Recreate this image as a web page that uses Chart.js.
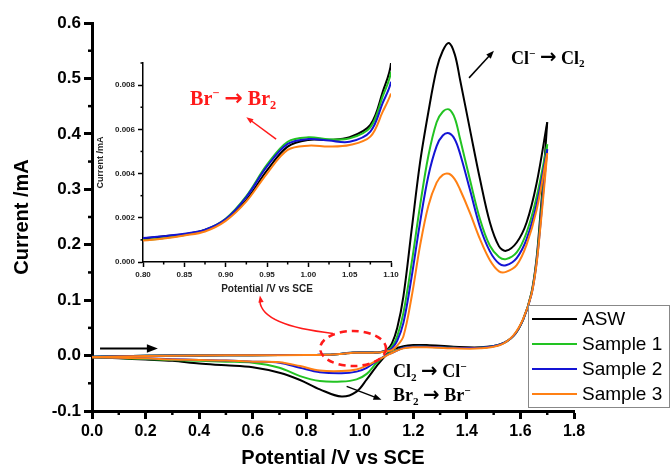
<!DOCTYPE html>
<html lang="en">
<head>
<meta charset="UTF-8">
<title>Cyclic voltammograms ASW and samples</title>
<script src="https://cdn.jsdelivr.net/npm/chart.js"></script>
<style>
  body { margin: 0; background: #fff; }
  #wrap { position: relative; width: 670px; height: 472px; }
  #mainChart { position: absolute; left: 0; top: 0; }
  #insetChart { position: absolute; left: 90px; top: 50px; }
</style>
</head>
<body>
<div id="wrap">
  <canvas id="mainChart" width="670" height="472"></canvas>
  <canvas id="insetChart" width="320" height="255"></canvas>
</div>
<script>
// series names and colours
const seriesLabels = ['ASW', 'Sample 1', 'Sample 2', 'Sample 3'];
const seriesColors = ['#000000', '#22c322', '#1414d4', '#ff8014'];

// forward scan (0 -> 1.7 V), potential in V, current in mA
const fwdPotential = [0, 0.2, 0.4, 0.6, 0.8, 0.825, 0.85, 0.875, 0.9, 0.925, 0.95, 0.975, 1.0, 1.025, 1.05, 1.075, 1.09, 1.1,
  1.12, 1.14, 1.163, 1.194, 1.225, 1.256, 1.287, 1.31, 1.333, 1.355, 1.374, 1.411, 1.449, 1.486, 1.52, 1.546, 1.586, 1.623, 1.66, 1.7];
const aswFwd = [-0.002, -0.0005, 0.0003, 0.0007, 0.00108, 0.00116, 0.00126, 0.00145, 0.0019, 0.0028, 0.00414, 0.00522, 0.00552, 0.00552, 0.00564, 0.0062, 0.0077, 0.009,
  0.022, 0.05, 0.107, 0.228, 0.348, 0.439, 0.517, 0.55, 0.564, 0.543, 0.499, 0.409, 0.318, 0.24, 0.197, 0.189, 0.204, 0.24, 0.31, 0.421];
const s1Fwd = [-0.002, -0.0005, 0.0003, 0.0007, 0.00099, 0.00108, 0.00122, 0.00145, 0.00196, 0.00298, 0.0044, 0.00544, 0.00564, 0.00555, 0.00559, 0.00609, 0.0075, 0.0086,
  0.016, 0.035, 0.077, 0.168, 0.27, 0.36, 0.421, 0.44, 0.444, 0.428, 0.392, 0.318, 0.246, 0.198, 0.178, 0.174, 0.186, 0.222, 0.285, 0.381];
const s2Fwd = [-0.002, -0.0005, 0.0003, 0.0007, 0.00109, 0.00117, 0.00128, 0.00146, 0.00194, 0.00294, 0.00432, 0.00534, 0.00556, 0.00549, 0.00544, 0.0059, 0.0072, 0.00815,
  0.013, 0.027, 0.059, 0.143, 0.24, 0.324, 0.378, 0.397, 0.401, 0.39, 0.365, 0.30, 0.232, 0.188, 0.166, 0.163, 0.176, 0.21, 0.272, 0.372];
const s3Fwd = [-0.003, -0.0008, 0.0002, 0.0006, 0.00097, 0.00106, 0.0012, 0.00138, 0.00186, 0.00274, 0.004, 0.00507, 0.00526, 0.00522, 0.00529, 0.00567, 0.0068, 0.00762,
  0.010, 0.018, 0.035, 0.107, 0.198, 0.27, 0.312, 0.326, 0.328, 0.318, 0.30, 0.258, 0.21, 0.172, 0.152, 0.151, 0.163, 0.2, 0.262, 0.365];

// reverse scan (1.7 -> 0 V)
const revPotential = [1.7, 1.686, 1.673, 1.66, 1.641, 1.61, 1.573, 1.524, 1.45, 1.35, 1.25, 1.2, 1.163, 1.125, 1.1,
  1.063, 1.026, 0.988, 0.932, 0.851, 0.777, 0.7, 0.6, 0.5, 0.4, 0.3, 0.2, 0.1, 0];
const aswRev = [0.421, 0.324, 0.246, 0.174, 0.113, 0.065, 0.035, 0.02, 0.015, 0.016, 0.019, 0.019, 0.017, 0.011, 0.002,
  -0.019, -0.043, -0.065, -0.074, -0.061, -0.044, -0.031, -0.021, -0.0175, -0.0145, -0.0095, -0.0072, -0.005, -0.003];
const s1Rev = [0.381, 0.31, 0.235, 0.17, 0.112, 0.065, 0.035, 0.02, 0.014, 0.014, 0.016, 0.016, 0.014, 0.007, 0.002,
  -0.013, -0.033, -0.043, -0.047, -0.046, -0.037, -0.022, -0.013, -0.011, -0.0095, -0.008, -0.006, -0.0045, -0.003];
const s2Rev = [0.372, 0.30, 0.228, 0.167, 0.11, 0.065, 0.035, 0.02, 0.014, 0.014, 0.016, 0.016, 0.014, 0.006, 0.001,
  -0.01, -0.022, -0.029, -0.032, -0.030, -0.022, -0.013, -0.011, -0.009, -0.008, -0.0065, -0.005, -0.004, -0.003];
const s3Rev = [0.365, 0.29, 0.225, 0.165, 0.11, 0.066, 0.036, 0.019, 0.013, 0.013, 0.015, 0.015, 0.013, 0.006, 0.0,
  -0.009, -0.018, -0.025, -0.028, -0.027, -0.019, -0.012, -0.011, -0.009, -0.008, -0.007, -0.005, -0.004, -0.003];

const fwdCurrents = [aswFwd, s1Fwd, s2Fwd, s3Fwd];
const revCurrents = [aswRev, s1Rev, s2Rev, s3Rev];

// axis ranges: [min, max, step between ticks]
const mainXRange = [0, 1.8, 0.1];
const mainYRange = [-0.1, 0.6, 0.05];
const insetXRange = [0.8, 1.1, 0.025];
const insetYRange = [0, 0.009, 0.001];

const SANS = 'Arial, "Liberation Sans", sans-serif';
const SERIF = '"Times New Roman", "Liberation Serif", serif';
const ARROWFONT = '"DejaVu Sans", sans-serif';

function toPoints(xs, ys) {
  return xs.map((x, i) => ({ x: x, y: ys[i] }));
}

function curveSet(withReverse) {
  const sets = [];
  seriesLabels.forEach((label, i) => {
    const base = { label: label, borderColor: seriesColors[i], borderWidth: 2, pointRadius: 0,
      showLine: true, tension: 0.35, fill: false, order: 3 - i };
    sets.push(Object.assign({ data: toPoints(fwdPotential, fwdCurrents[i]) }, base));
    if (withReverse) sets.push(Object.assign({ data: toPoints(revPotential, revCurrents[i]) }, base));
  });
  return sets;
}

function axis(range, digits, fontSize, tickLen, lineW, title, titleSize, titlePad, size, labelColor) {
  return {
    type: 'linear', min: range[0], max: range[1],
    border: { display: true, color: '#000', width: lineW },
    grid: { drawOnChartArea: false, drawTicks: true, tickLength: tickLen, tickWidth: lineW,
      tickColor: ctx => (ctx.index % 2 === 0 ? '#000' : 'rgba(0,0,0,0)') },
    ticks: { stepSize: range[2], autoSkip: false, maxRotation: 0, padding: 3, color: labelColor,
      font: { family: SANS, size: fontSize, weight: 'bold' },
      callback: (v, i) => (i % 2 === 0 ? (Math.round(v * 1000) / 1000).toFixed(digits) : '') },
    title: { display: true, text: title, color: labelColor,
      font: { family: SANS, size: titleSize, weight: 'bold' }, padding: titlePad },
    afterFit: s => { if (s.isHorizontal()) s.height = size; else s.width = size; }
  };
}

// short minor ticks between the labelled ones
const minorTicks = {
  id: 'minorTicks',
  afterDraw(chart, args, opts) {
    const ctx = chart.ctx;
    ctx.save();
    ctx.strokeStyle = '#000';
    ctx.lineWidth = opts.width;
    ['x', 'y'].forEach(id => {
      const sc = chart.scales[id];
      sc.ticks.forEach((t, i) => {
        if (i % 2 === 0) return;
        const p = sc.getPixelForValue(t.value);
        ctx.beginPath();
        if (id === 'x') { ctx.moveTo(p, sc.top); ctx.lineTo(p, sc.top + opts.length); }
        else { ctx.moveTo(sc.right, p); ctx.lineTo(sc.right - opts.length, p); }
        ctx.stroke();
      });
    });
    ctx.restore();
  }
};

function arrow(ctx, x1, y1, x2, y2, color, w, head) {
  const a = Math.atan2(y2 - y1, x2 - x1);
  const c = Math.cos(a), s = Math.sin(a);
  ctx.strokeStyle = color; ctx.fillStyle = color; ctx.lineWidth = w;
  ctx.beginPath(); ctx.moveTo(x1, y1); ctx.lineTo(x2 - head * c * 0.8, y2 - head * s * 0.8); ctx.stroke();
  ctx.beginPath();
  ctx.moveTo(x2, y2);
  ctx.lineTo(x2 - head * c + head * 0.38 * s, y2 - head * s - head * 0.38 * c);
  ctx.lineTo(x2 - head * c - head * 0.38 * s, y2 - head * s + head * 0.38 * c);
  ctx.closePath(); ctx.fill();
}

// text with sub/superscripts; the reaction arrow uses a heavier glyph
function richText(ctx, runs, x, y, size, color) {
  ctx.fillStyle = color; ctx.textBaseline = 'middle'; ctx.textAlign = 'left';
  runs.forEach(r => {
    const small = r.sup || r.sub;
    const s = small ? size * 0.62 : size;
    ctx.font = 'bold ' + (r.arr ? size * 1.1 : s) + 'px ' + (r.arr ? ARROWFONT : SERIF);
    const dy = r.sup ? -size * 0.3 : (r.sub ? size * 0.3 : (r.arr ? -size * 0.04 : 0));
    ctx.fillText(r.t, x, y + dy);
    x += ctx.measureText(r.t).width;
  });
}

function reaction(a, aMark, b, bMark) {
  const mark = m => (m === 'minus' ? { t: '\u2212', sup: true } : { t: '2', sub: true });
  return [{ t: a }, mark(aMark), { t: ' ' }, { t: '\u2192', arr: true }, { t: ' ' }, { t: b }, mark(bMark)];
}

const mainNotes = {
  id: 'mainNotes',
  afterDraw(chart) {
    const ctx = chart.ctx, sx = chart.scales.x, sy = chart.scales.y;
    const px = v => sx.getPixelForValue(v), py = v => sy.getPixelForValue(v);
    ctx.save();
    // scan direction
    arrow(ctx, px(0.03), py(0.0127), px(0.246), py(0.0127), '#000', 2, 11);
    // oxidation label
    arrow(ctx, px(1.408), py(0.501), px(1.501), py(0.55), '#000', 1.5, 8);
    richText(ctx, reaction('Cl', 'minus', 'Cl', 'two'), px(1.565), py(0.535), 18, '#000');
    // reduction labels
    arrow(ctx, px(0.951), py(-0.0555), px(1.081), py(-0.0796), '#000', 1.5, 8);
    richText(ctx, reaction('Cl', 'two', 'Cl', 'minus'), px(1.124), py(-0.0307), 18, '#000');
    richText(ctx, reaction('Br', 'two', 'Br', 'minus'), px(1.124), py(-0.0736), 18, '#000');
    // zoomed region marker
    ctx.strokeStyle = '#ff1a1a'; ctx.lineWidth = 2.5; ctx.setLineDash([7, 5]);
    ctx.beginPath();
    ctx.ellipse(px(0.975), py(0.0127), px(0.975 + 0.123) - px(0.975), py(0) - py(0.0316), 0, 0, Math.PI * 2);
    ctx.stroke();
    ctx.setLineDash([]);
    ctx.lineWidth = 1.5;
    const ex = px(0.627), ey = py(0.1085), cx = px(0.635), cy = py(0.054);
    ctx.beginPath(); ctx.moveTo(px(0.9), py(0.04)); ctx.quadraticCurveTo(cx, cy, ex, ey + 6); ctx.stroke();
    arrow(ctx, ex + 1, ey + 6, ex, ey, '#ff1a1a', 1.5, 7);
    // legend
    const L = 528, T = 305, R = 670, B = 408;
    ctx.fillStyle = '#fff'; ctx.fillRect(L, T, R - L, B - T);
    ctx.strokeStyle = '#888'; ctx.lineWidth = 1; ctx.strokeRect(L + 0.5, T + 0.5, R - L - 1, B - T - 1);
    ctx.font = '19px ' + SANS; ctx.textBaseline = 'middle'; ctx.textAlign = 'left';
    seriesLabels.forEach((lab, i) => {
      const y = T + 14 + i * 25;
      ctx.strokeStyle = seriesColors[i]; ctx.lineWidth = 2;
      ctx.beginPath(); ctx.moveTo(L + 4, y); ctx.lineTo(L + 49, y); ctx.stroke();
      ctx.fillStyle = '#000'; ctx.fillText(lab, L + 54, y + 1);
    });
    ctx.restore();
  }
};

const insetNotes = {
  id: 'insetNotes',
  afterDraw(chart) {
    const ctx = chart.ctx, sx = chart.scales.x, sy = chart.scales.y;
    const px = v => sx.getPixelForValue(v), py = v => sy.getPixelForValue(v);
    ctx.save();
    arrow(ctx, px(0.961), py(0.00556), px(0.925), py(0.00655), '#ff1a1a', 1.5, 7);
    richText(ctx, reaction('Br', 'minus', 'Br', 'two'), px(0.857), py(0.00732), 20, '#ff1a1a');
    ctx.restore();
  }
};

new Chart(document.getElementById('mainChart'), {
  type: 'scatter',
  data: { datasets: curveSet(true) },
  options: {
    responsive: false, animation: false, devicePixelRatio: 1,
    layout: { padding: { top: 23, right: 96, left: 0, bottom: 0 } },
    plugins: { legend: { display: false }, tooltip: { enabled: false }, minorTicks: { length: 4, width: 2.5 } },
    scales: {
      x: axis(mainXRange, 1, 16, 8, 3, 'Potential /V vs SCE', 20, { top: 0, bottom: 2 }, 61, '#000'),
      y: axis(mainYRange, 1, 17, 8, 3, 'Current /mA', 20, { top: 10, bottom: 0 }, 92, '#000')
    }
  },
  plugins: [minorTicks, mainNotes]
});

new Chart(document.getElementById('insetChart'), {
  type: 'scatter',
  data: { datasets: curveSet(false) },
  options: {
    responsive: false, animation: false, devicePixelRatio: 1,
    layout: { padding: { top: 13, right: 19, left: 0, bottom: 0 } },
    plugins: { legend: { display: false }, tooltip: { enabled: false }, minorTicks: { length: 2.5, width: 1.5 } },
    scales: {
      x: axis(insetXRange, 2, 8, 5, 1.5, 'Potential /V vs SCE', 10, { top: 0, bottom: 10 }, 43, '#222'),
      y: axis(insetYRange, 3, 8, 5, 1.5, 'Current /mA', 9, { top: 5, bottom: 0 }, 53, '#222')
    }
  },
  plugins: [minorTicks, insetNotes]
});
</script>
</body>
</html>
